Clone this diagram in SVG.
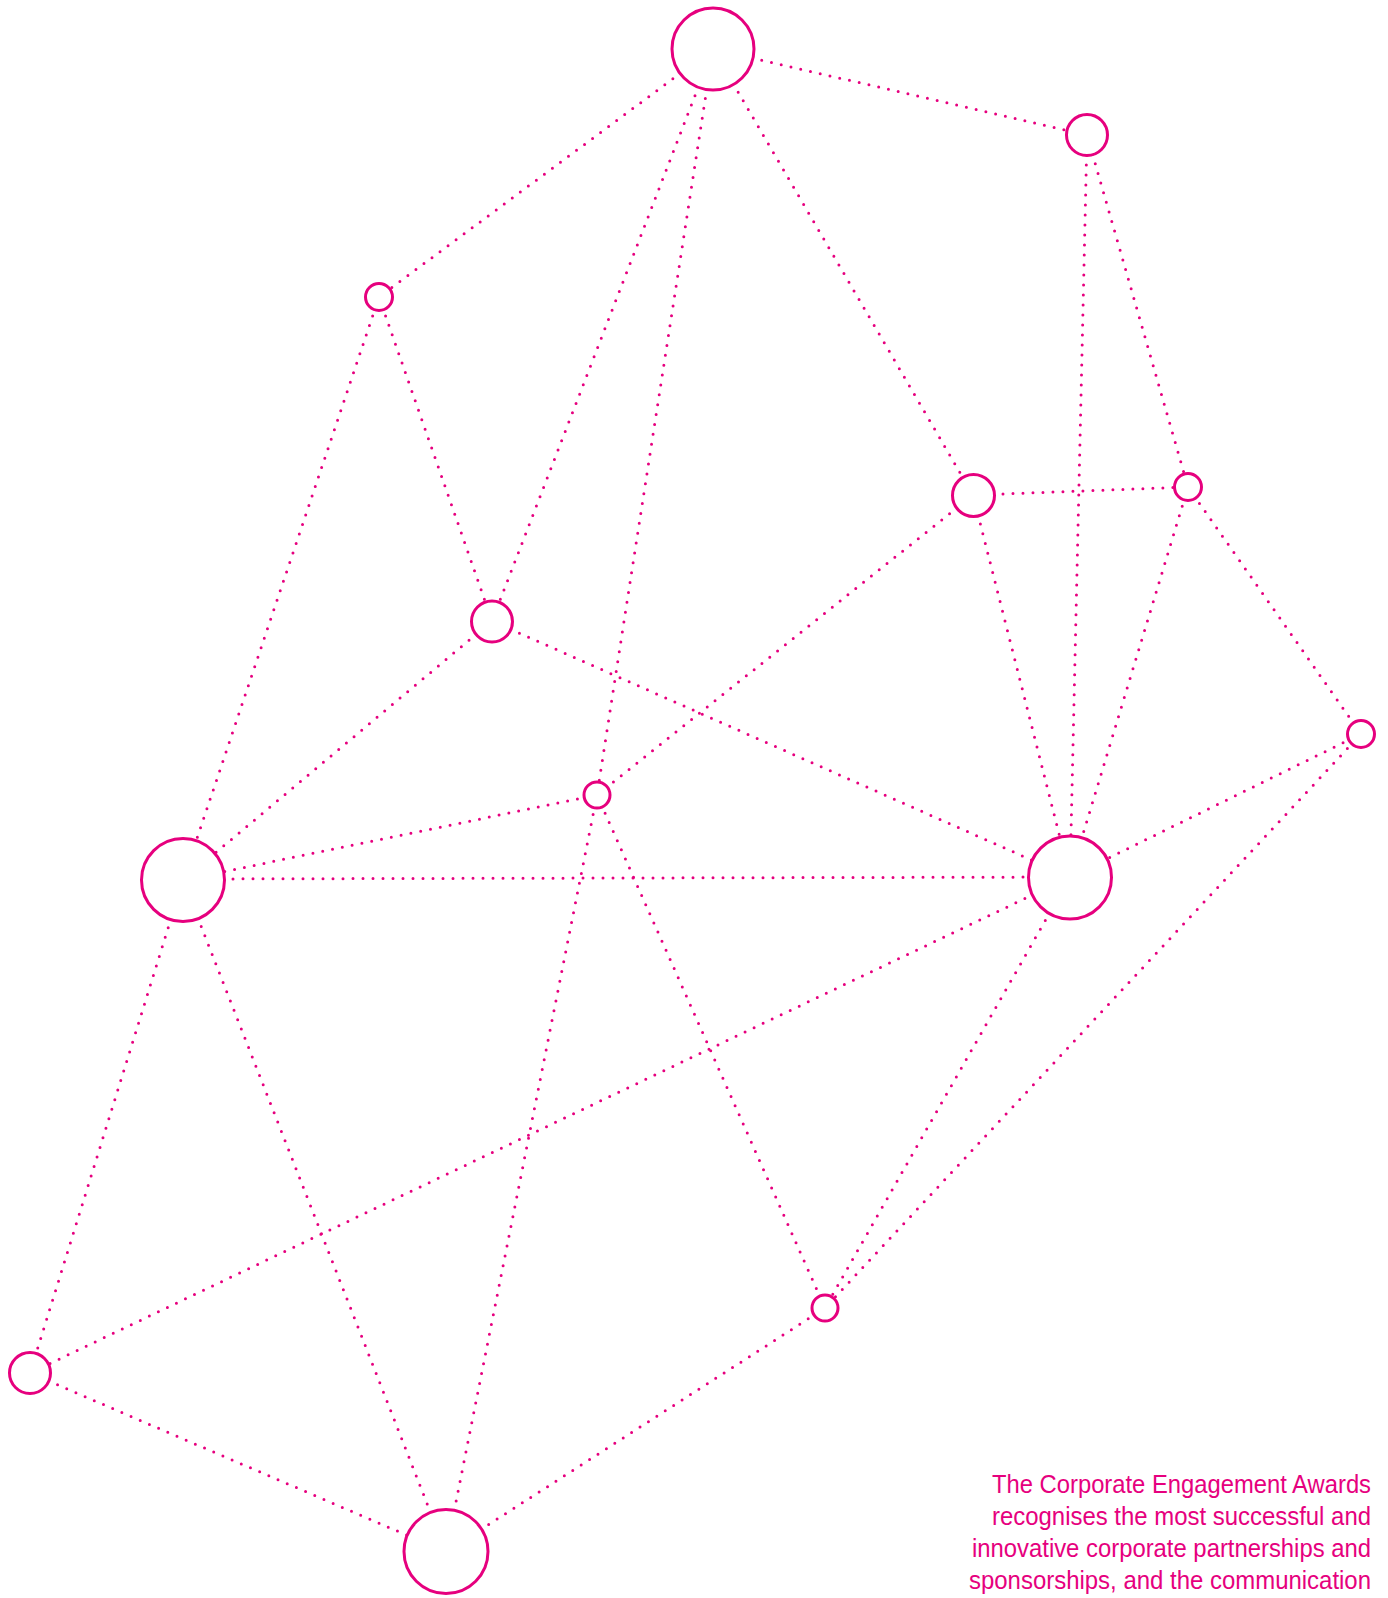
<svg xmlns="http://www.w3.org/2000/svg" width="1388" height="1598" viewBox="0 0 1388 1598">
<style>
.e{stroke:#E6007E;stroke-width:3;stroke-dasharray:0 10;stroke-linecap:round;fill:none}
.n{stroke:#E6007E;stroke-width:3;fill:#fff}
.t{font-family:"Liberation Sans",Arial,sans-serif;font-size:25px;fill:#E6007E;text-anchor:end}
</style>
<rect width="1388" height="1598" fill="#fff"/>
<g id="connectors">
<line class="e" x1="713" y1="49" x2="379" y2="297"/>
<line class="e" x1="713" y1="49" x2="1087" y2="135"/>
<line class="e" x1="713" y1="49" x2="492" y2="621"/>
<line class="e" x1="713" y1="49" x2="597" y2="795"/>
<line class="e" x1="713" y1="49" x2="973" y2="495"/>
<line class="e" x1="1087" y1="135" x2="1070" y2="877"/>
<line class="e" x1="1087" y1="135" x2="1188" y2="487"/>
<line class="e" x1="379" y1="297" x2="183" y2="880"/>
<line class="e" x1="379" y1="297" x2="492" y2="621"/>
<line class="e" x1="973" y1="495" x2="1188" y2="487"/>
<line class="e" x1="973" y1="495" x2="597" y2="795"/>
<line class="e" x1="973" y1="495" x2="1070" y2="877"/>
<line class="e" x1="1188" y1="487" x2="1070" y2="877"/>
<line class="e" x1="1188" y1="487" x2="1361" y2="734"/>
<line class="e" x1="492" y1="621" x2="183" y2="880"/>
<line class="e" x1="492" y1="621" x2="1070" y2="877"/>
<line class="e" x1="597" y1="795" x2="183" y2="880"/>
<line class="e" x1="183" y1="879" x2="1070" y2="877"/>
<line class="e" x1="1361" y1="734" x2="1070" y2="877"/>
<line class="e" x1="1361" y1="734" x2="825" y2="1308"/>
<line class="e" x1="597" y1="795" x2="446" y2="1552"/>
<line class="e" x1="597" y1="795" x2="825" y2="1308"/>
<line class="e" x1="1070" y1="877" x2="30" y2="1373"/>
<line class="e" x1="1070" y1="877" x2="825" y2="1308"/>
<line class="e" x1="183" y1="880" x2="30" y2="1373"/>
<line class="e" x1="183" y1="880" x2="446" y2="1552"/>
<line class="e" x1="30" y1="1373" x2="446" y2="1552"/>
<line class="e" x1="825" y1="1308" x2="446" y2="1552"/>
</g>
<g id="nodeA"><circle class="n" cx="713" cy="49" r="41"/></g>
<g id="nodeB"><circle class="n" cx="1087" cy="135" r="20.5"/></g>
<g id="nodeC"><circle class="n" cx="379" cy="297" r="13.5"/></g>
<g id="nodeD"><circle class="n" cx="973.5" cy="495.5" r="21"/></g>
<g id="nodeE"><circle class="n" cx="1188" cy="487" r="13.5"/></g>
<g id="nodeF"><circle class="n" cx="492" cy="621.5" r="20.5"/></g>
<g id="nodeG"><circle class="n" cx="1361" cy="734" r="13.5"/></g>
<g id="nodeH"><circle class="n" cx="597" cy="795" r="13"/></g>
<g id="nodeI"><circle class="n" cx="183" cy="880" r="41.5"/></g>
<g id="nodeJ"><circle class="n" cx="1070" cy="877.5" r="41.5"/></g>
<g id="nodeK"><circle class="n" cx="825" cy="1308" r="13"/></g>
<g id="nodeL"><circle class="n" cx="30" cy="1373" r="20.5"/></g>
<g id="nodeM"><circle class="n" cx="446" cy="1551.5" r="42"/></g>
<g id="caption">
<text class="t" x="1371" y="1493" textLength="379" lengthAdjust="spacingAndGlyphs">The Corporate Engagement Awards</text>
<text class="t" x="1371" y="1525" textLength="379" lengthAdjust="spacingAndGlyphs">recognises the most successful and</text>
<text class="t" x="1371" y="1557" textLength="399" lengthAdjust="spacingAndGlyphs">innovative corporate partnerships and</text>
<text class="t" x="1371" y="1589" textLength="402" lengthAdjust="spacingAndGlyphs">sponsorships, and the communication</text>
</g>
</svg>
